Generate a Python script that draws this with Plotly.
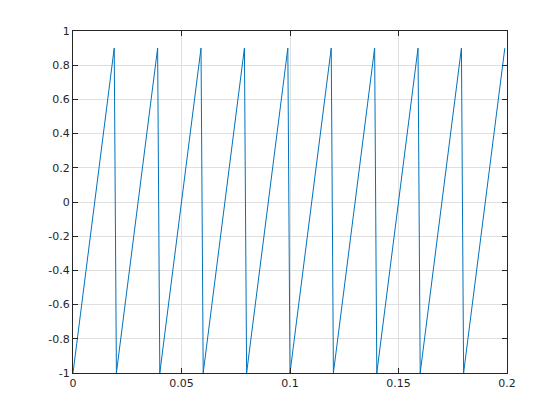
import plotly.graph_objects as go

# one period of the sampled sawtooth (50 Hz, sampled every 1 ms)
period_values = [-1.0, -0.9, -0.8, -0.7, -0.6, -0.5, -0.4, -0.3, -0.2, -0.1,
                 0.0, 0.1, 0.2, 0.3, 0.4, 0.5, 0.6, 0.7, 0.8, 0.9]
n_periods = 10
sample_step = 0.001

y = period_values * n_periods
t = [i * sample_step for i in range(len(y))]

x_ticks = [0, 0.05, 0.1, 0.15, 0.2]
x_labels = ["0", "0.05", "0.1", "0.15", "0.2"]
y_ticks = [-1, -0.8, -0.6, -0.4, -0.2, 0, 0.2, 0.4, 0.6, 0.8, 1]
y_labels = ["-1", "-0.8", "-0.6", "-0.4", "-0.2", "0", "0.2", "0.4", "0.6", "0.8", "1"]

fig = go.Figure()
fig.add_trace(go.Scatter(x=t, y=y, mode="lines",
                         line=dict(color="#0072BD", width=1)))

axis_style = dict(
    showline=True, linecolor="#262626", linewidth=1, mirror="ticks",
    ticks="inside", ticklen=5, tickcolor="#262626",
    showgrid=True, gridcolor="#dfdfdf", gridwidth=1,
    zeroline=False, tickfont=dict(family="DejaVu Sans", size=11, color="#262626"),
)

fig.update_xaxes(range=[0, 0.2], tickvals=x_ticks, ticktext=x_labels, **axis_style)
fig.update_yaxes(range=[-1, 1], tickvals=y_ticks, ticktext=y_labels, **axis_style)

# page body adds an 8px offset, so margins are shifted to land the axes
# where the reference has them
fig.update_layout(
    width=560, height=420,
    margin=dict(l=65, r=61, t=23, b=55),
    paper_bgcolor="white", plot_bgcolor="white",
    showlegend=False,
)

fig.write_html("out.html")
